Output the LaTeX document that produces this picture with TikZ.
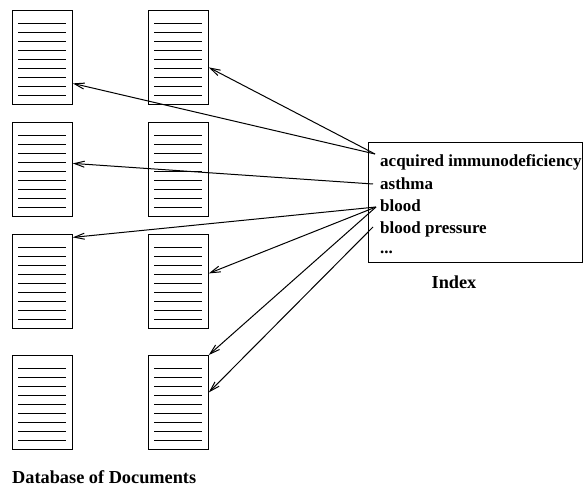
\documentclass[tikz,border=0pt]{standalone}
\usepackage{fontspec}
\setmainfont{Liberation Serif}
\usetikzlibrary{arrows.meta}
\begin{document}
\begin{tikzpicture}[x=1pt,y=-1pt,
  doc/.style={draw, line width=0.8pt, minimum width=60pt, minimum height=94pt,
    inner sep=0pt, anchor=north west,
    path picture={\foreach \k in {0,...,8}{\draw[line width=0.9pt]
      ([xshift=6pt,yshift={-13pt-9pt*\k}]path picture bounding box.north west) -- ++(48pt,0pt);}}},
  entry/.style={anchor=base west, inner sep=0pt, font=\fontsize{17}{20}\selectfont\bfseries},
  lbl/.style={inner sep=0pt, font=\fontsize{18.3}{22}\selectfont\bfseries},
  link/.style={-{Straight Barb[length=10pt,width=6pt]}, line width=1pt}]
\useasboundingbox (0,0) rectangle (583,486);
% documents
\node[doc] (d11) at (12,10) {};
\node[doc] (d12) at (148,10) {};
\node[doc] (d21) at (12,122) {};
\node[doc] (d22) at (148,122) {};
\node[doc] (d31) at (12,234) {};
\node[doc] (d32) at (148,234) {};
\node[doc] (d41) at (12,355) {};
\node[doc] (d42) at (148,355) {};
% index
\node[draw, line width=0.8pt, minimum width=214pt, minimum height=120pt,
  inner sep=0pt, anchor=north west] (idx) at (368,142) {};
\node[entry] (t1) at (380,167) {acquired immunodeficiency};
\node[entry] (t2) at (380,190) {asthma};
\node[entry] (t3) at (380,212) {blood};
\node[entry] (t4) at (380,234) {blood pressure};
\node[entry] (t5) at (380,254) {...};
\node[lbl, anchor=base] (idxl) at (454,288) {Index};
\node[lbl, anchor=base west] (db) at (12,483) {Database of Documents};
% links
\draw[link] ([xshift=-5pt,yshift=13pt]t1.base west) -- ([yshift=-26pt]d11.east);
\draw[link] ([xshift=-5pt,yshift=13pt]t1.base west) -- ([yshift=-10pt]d12.east);
\draw[link] ([xshift=-7pt,yshift=6pt]t2.base west) -- ([yshift=6pt]d21.east);
\draw[link] ([xshift=-4pt,yshift=5pt]t3.base west) -- ([yshift=44pt]d31.east);
\draw[link] ([xshift=-4pt,yshift=5pt]t3.base west) -- ([yshift=8pt]d32.east);
\draw[link] ([xshift=-4pt,yshift=5pt]t3.base west) -- (d42.north east);
\draw[link] ([xshift=-7pt,yshift=7pt]t4.base west) -- ([yshift=10pt]d42.east);
\end{tikzpicture}
\end{document}
